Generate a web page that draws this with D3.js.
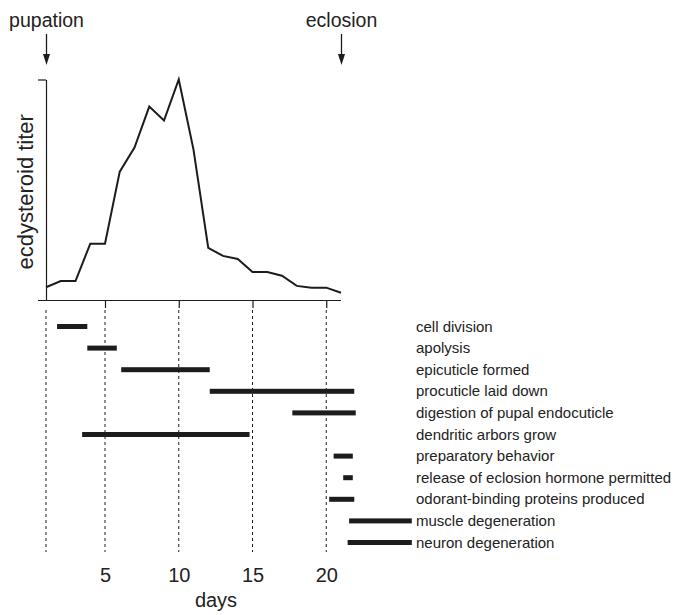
<!DOCTYPE html>
<html>
<head>
<meta charset="utf-8">
<script src="https://cdn.jsdelivr.net/npm/d3@7"></script>
<style>
  html, body { margin: 0; padding: 0; background: #fff; }
  svg { display: block; font-family: "Liberation Sans", Arial, Helvetica, sans-serif; }
</style>
</head>
<body>
<svg id="chart" width="679" height="615"></svg>
<script>
// Ecdysteroid titer over metamorphosis (days after pupation)
const days = [1, 2, 3, 4, 5, 6, 7, 8, 9, 10, 11, 12, 13, 14, 15, 16, 17, 18, 19, 20, 21];
const titer = [5.8, 8.6, 8.6, 25.5, 25.5, 58.2, 69.1, 87.7, 81.4, 100, 68.2, 23.6, 20, 18.6, 12.7, 12.7, 11, 6.4, 5.6, 5.6, 3.3];

// Developmental events and the day ranges over which they occur
const events = [
  "cell division",
  "apolysis",
  "epicuticle formed",
  "procuticle laid down",
  "digestion of pupal endocuticle",
  "dendritic arbors grow",
  "preparatory behavior",
  "release of eclosion hormone permitted",
  "odorant-binding proteins produced",
  "muscle degeneration",
  "neuron degeneration"
];
const eventStart = [1.75, 3.8, 6.1, 12.1, 17.7, 3.45, 20.5, 21.15, 20.2, 21.55, 21.45];
const eventEnd   = [3.8, 5.8, 12.1, 21.9, 22.0, 14.8, 21.8, 21.8, 21.9, 25.8, 25.8];

const dayTicks = [5, 10, 15, 20];
const guideDays = [1, 5, 10, 15, 20];
const markers = [
  { day: 1, label: "pupation" },
  { day: 21, label: "eclosion" }
];

const ink = "#1c1c1c";
const svg = d3.select("#chart");

const x = d3.scaleLinear().domain([1, 21]).range([46, 341]);
const y = d3.scaleLinear().domain([0, 100]).range([300, 79.5]);
const row = d3.scalePoint().domain(events).range([326.5, 542.5]);

// Vertical axis for titer: end ticks only
svg.append("g")
  .attr("transform", `translate(${x(1)},0)`)
  .call(d3.axisLeft(y).tickValues([100]).tickSize(8).tickSizeOuter(0).tickFormat(""))
  .call(g => g.selectAll("path,line").attr("stroke", ink).attr("stroke-width", 1.2));

// Horizontal baseline with day ticks
svg.append("g")
  .attr("transform", `translate(0,${y(0)})`)
  .call(d3.axisBottom(x).tickValues(dayTicks).tickSize(8).tickSizeOuter(0).tickFormat(""))
  .call(g => g.select(".domain").attr("d", `M${x(1) - 8},0.5H${x(21)}`))
  .call(g => g.selectAll("path,line").attr("stroke", ink).attr("stroke-width", 1.2));

// Dashed day guides through the event panel
svg.append("g")
  .selectAll("line")
  .data(guideDays)
  .join("line")
  .attr("x1", d => x(d)).attr("x2", d => x(d))
  .attr("y1", 310).attr("y2", 552)
  .attr("stroke", ink)
  .attr("stroke-width", 1)
  .attr("stroke-dasharray", "3,3");

// Titer curve
svg.append("path")
  .datum(days.map((d, i) => [d, titer[i]]))
  .attr("fill", "none")
  .attr("stroke", ink)
  .attr("stroke-width", 2)
  .attr("stroke-linejoin", "miter")
  .attr("d", d3.line().x(d => x(d[0])).y(d => y(d[1])));

// Y label
svg.append("text")
  .attr("transform", `translate(33,${(y(0) + y(100)) / 2 + 2}) rotate(-90)`)
  .attr("text-anchor", "middle")
  .attr("font-size", 22)
  .attr("fill", "#222")
  .text("ecdysteroid titer");

// Event bars
svg.append("g")
  .selectAll("rect")
  .data(events)
  .join("rect")
  .attr("x", (d, i) => x(eventStart[i]))
  .attr("width", (d, i) => x(eventEnd[i]) - x(eventStart[i]))
  .attr("y", d => row(d) - 2.5)
  .attr("height", 5)
  .attr("fill", ink);

// Event labels
svg.append("g")
  .selectAll("text")
  .data(events)
  .join("text")
  .attr("x", 416)
  .attr("y", d => row(d) + 5)
  .attr("font-size", 15)
  .attr("fill", "#222")
  .text(d => d);

// Day tick labels
svg.append("g")
  .attr("transform", "translate(0,582)")
  .call(d3.axisBottom(x).tickValues(dayTicks).tickSize(0).tickPadding(0))
  .call(g => g.select(".domain").remove())
  .call(g => g.selectAll("text")
    .attr("dy", 0)
    .attr("y", 0)
    .attr("font-size", 20)
    .attr("font-family", "'Liberation Sans', Arial, sans-serif")
    .attr("fill", "#222"));

svg.append("text")
  .attr("x", 216)
  .attr("y", 607)
  .attr("text-anchor", "middle")
  .attr("font-size", 20)
  .attr("fill", "#222")
  .text("days");

// Pupation / eclosion markers with arrows
const mk = svg.append("g").selectAll("g").data(markers).join("g")
  .attr("transform", d => `translate(${x(d.day) + 0.5},0)`);
mk.append("text")
  .attr("y", 27)
  .attr("text-anchor", "middle")
  .attr("font-size", 19.5)
  .attr("fill", "#222")
  .text(d => d.label);
mk.append("line")
  .attr("x1", 0).attr("x2", 0)
  .attr("y1", 34).attr("y2", 56)
  .attr("stroke", ink).attr("stroke-width", 1.3);
mk.append("path")
  .attr("d", "M-3.5,54L3.5,54L0,65Z")
  .attr("fill", ink);
</script>
</body>
</html>
